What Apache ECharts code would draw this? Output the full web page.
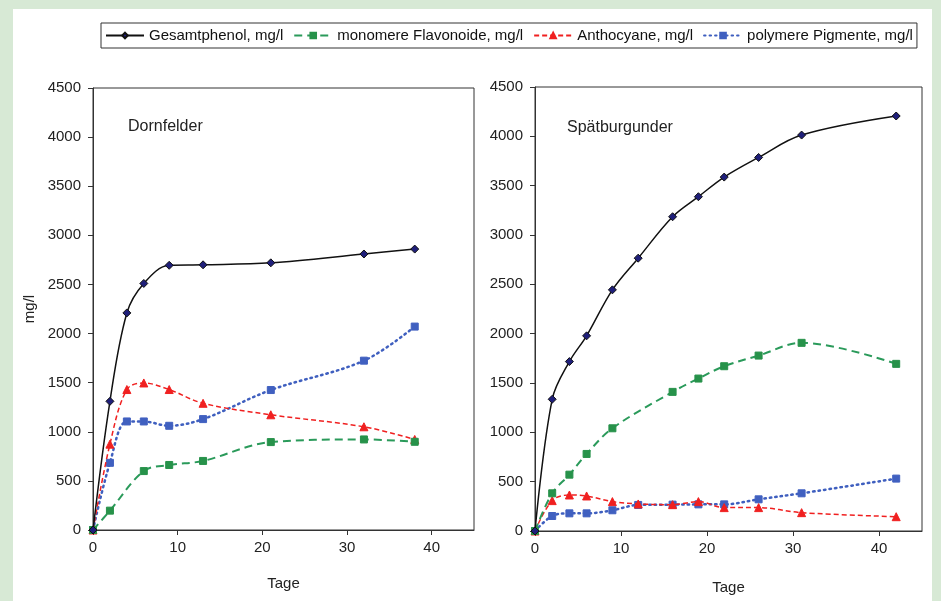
<!DOCTYPE html>
<html>
<head>
<meta charset="utf-8">
<script src="https://cdn.jsdelivr.net/npm/echarts@6/dist/echarts.min.js"></script>
<style>
  html, body { margin: 0; padding: 0; background: #d7e9d5; }
  #panel { position: absolute; left: 13px; top: 9px; width: 919px; height: 592px; background: #fff; }
  #chart { position: absolute; left: 0; top: 0; width: 941px; height: 601px; }
</style>
</head>
<body>
<div id="panel"></div>
<div id="chart"></div>
<script>
// Dornfelder
var dfTage = [0, 2, 4, 6, 9, 13, 21, 32, 38]
var dfGesamtphenol = [0, 1310, 2210, 2510, 2695, 2700, 2720, 2810, 2860]
var dfFlavTage = [0, 2, 6, 9, 13, 21, 32, 38]
var dfFlavonoide = [0, 197, 600, 662, 703, 895, 922, 898]
var dfAnthocyane = [0, 874, 1430, 1497, 1430, 1290, 1173, 1051, 922]
var dfPigmente = [0, 684, 1105, 1105, 1061, 1129, 1425, 1724, 2071]

// Spätburgunder
var sbTage = [0, 2, 4, 6, 9, 12, 16, 19, 22, 26, 31, 42]
var sbGesamtphenol = [0, 1335, 1717, 1978, 2444, 2765, 3185, 3388, 3587, 3786, 4013, 4206]
var sbFlavTage = [0, 2, 4, 6, 9, 16, 19, 22, 26, 31, 42]
var sbFlavonoide = [0, 382, 571, 781, 1041, 1410, 1545, 1670, 1778, 1907, 1694]
var sbAnthocyane = [0, 308, 365, 355, 298, 274, 267, 298, 237, 237, 186, 145]
var sbPigmente = [0, 152, 179, 179, 210, 264, 267, 270, 270, 321, 382, 531]

var names = ['Gesamtphenol, mg/l', 'monomere Flavonoide, mg/l', 'Anthocyane, mg/l', 'polymere Pigmente, mg/l']

function pairs (xs, ys) {
  return xs.map(function (x, i) { return [x, ys[i]] })
}

var styles = [
  { color: '#1f1f7a', line: { color: '#111', width: 1.5, type: 'solid' }, symbol: 'diamond', size: 8, border: '#111' },
  { color: '#27924a', line: { color: '#2a9a5a', width: 2, type: [8, 5] }, symbol: 'rect', size: 7, border: '#27924a' },
  { color: '#f02020', line: { color: '#f02020', width: 1.5, type: [5, 3] }, symbol: 'triangle', size: 8, border: '#f02020' },
  { color: '#4060c0', line: { color: '#3f5fbf', width: 2.5, type: [1.5, 4], cap: 'round' }, symbol: 'rect', size: 7, border: '#4060c0' }
]

function makeSeries (idx, gi, data) {
  var s = styles[idx]
  return {
    name: names[idx],
    type: 'line',
    xAxisIndex: gi,
    yAxisIndex: gi,
    smooth: 0.35,
    symbol: s.symbol,
    symbolSize: s.size,
    showAllSymbol: true,
    lineStyle: s.line,
    itemStyle: { color: s.color, borderColor: s.border, borderWidth: 1 },
    data: data,
    z: 10 - idx
  }
}

var axisFont = { color: '#222', fontSize: 15, fontFamily: 'Liberation Sans' }

function xAxisOf (gi) {
  return {
    gridIndex: gi,
    type: 'value',
    min: 0,
    max: 45,
    interval: 10,
    name: 'Tage',
    nameLocation: 'middle',
    nameGap: gi === 0 ? 46 : 49,
    nameTextStyle: axisFont,
    axisLine: { lineStyle: { color: '#333', width: 1 } },
    axisTick: { lineStyle: { color: '#333' }, length: 5 },
    axisLabel: Object.assign({ margin: 10, showMaxLabel: false }, axisFont),
    splitLine: { show: false }
  }
}

function yAxisOf (gi, title) {
  return {
    gridIndex: gi,
    type: 'value',
    min: 0,
    max: 4500,
    interval: 500,
    name: title,
    nameLocation: 'middle',
    nameGap: 56,
    nameRotate: 90,
    nameTextStyle: axisFont,
    axisLine: { show: true, lineStyle: { color: '#333', width: 1 } },
    axisTick: { show: true, lineStyle: { color: '#333' }, length: 5 },
    axisLabel: Object.assign({ margin: 12, formatter: function (v) { return String(v) } }, axisFont),
    splitLine: { show: false }
  }
}

var myChart = echarts.init(document.getElementById('chart'))
var option = {
  backgroundColor: 'transparent',
  animation: false,
  textStyle: { fontFamily: 'Liberation Sans' },
  legend: {
    left: 101,
    top: 23,
    data: names,
    orient: 'horizontal',
    padding: [5, 4, 5, 4],
    itemGap: 10,
    itemWidth: 38,
    itemHeight: 7,
    borderColor: '#333',
    borderWidth: 1,
    textStyle: { color: '#111', fontSize: 15, fontFamily: 'Liberation Sans' }
  },
  grid: [
    { left: 93, top: 88, width: 381, height: 442, show: true, borderColor: '#333', borderWidth: 1, backgroundColor: '#fff' },
    { left: 535, top: 87, width: 387, height: 444, show: true, borderColor: '#333', borderWidth: 1, backgroundColor: '#fff' }
  ],
  xAxis: [xAxisOf(0), xAxisOf(1)],
  yAxis: [yAxisOf(0, 'mg/l'), yAxisOf(1, '')],
  graphic: [
    { type: 'text', left: 128, top: 119, style: { text: 'Dornfelder', fontSize: 16, fill: '#222', fontFamily: 'Liberation Sans' } },
    { type: 'text', left: 567, top: 120, style: { text: 'Spätburgunder', fontSize: 16, fill: '#222', fontFamily: 'Liberation Sans' } }
  ],
  series: [
    makeSeries(0, 0, pairs(dfTage, dfGesamtphenol)),
    makeSeries(1, 0, pairs(dfFlavTage, dfFlavonoide)),
    makeSeries(2, 0, pairs(dfTage, dfAnthocyane)),
    makeSeries(3, 0, pairs(dfTage, dfPigmente)),
    makeSeries(0, 1, pairs(sbTage, sbGesamtphenol)),
    makeSeries(1, 1, pairs(sbFlavTage, sbFlavonoide)),
    makeSeries(2, 1, pairs(sbTage, sbAnthocyane)),
    makeSeries(3, 1, pairs(sbTage, sbPigmente))
  ]
}
myChart.setOption(option)
</script>
</body>
</html>
